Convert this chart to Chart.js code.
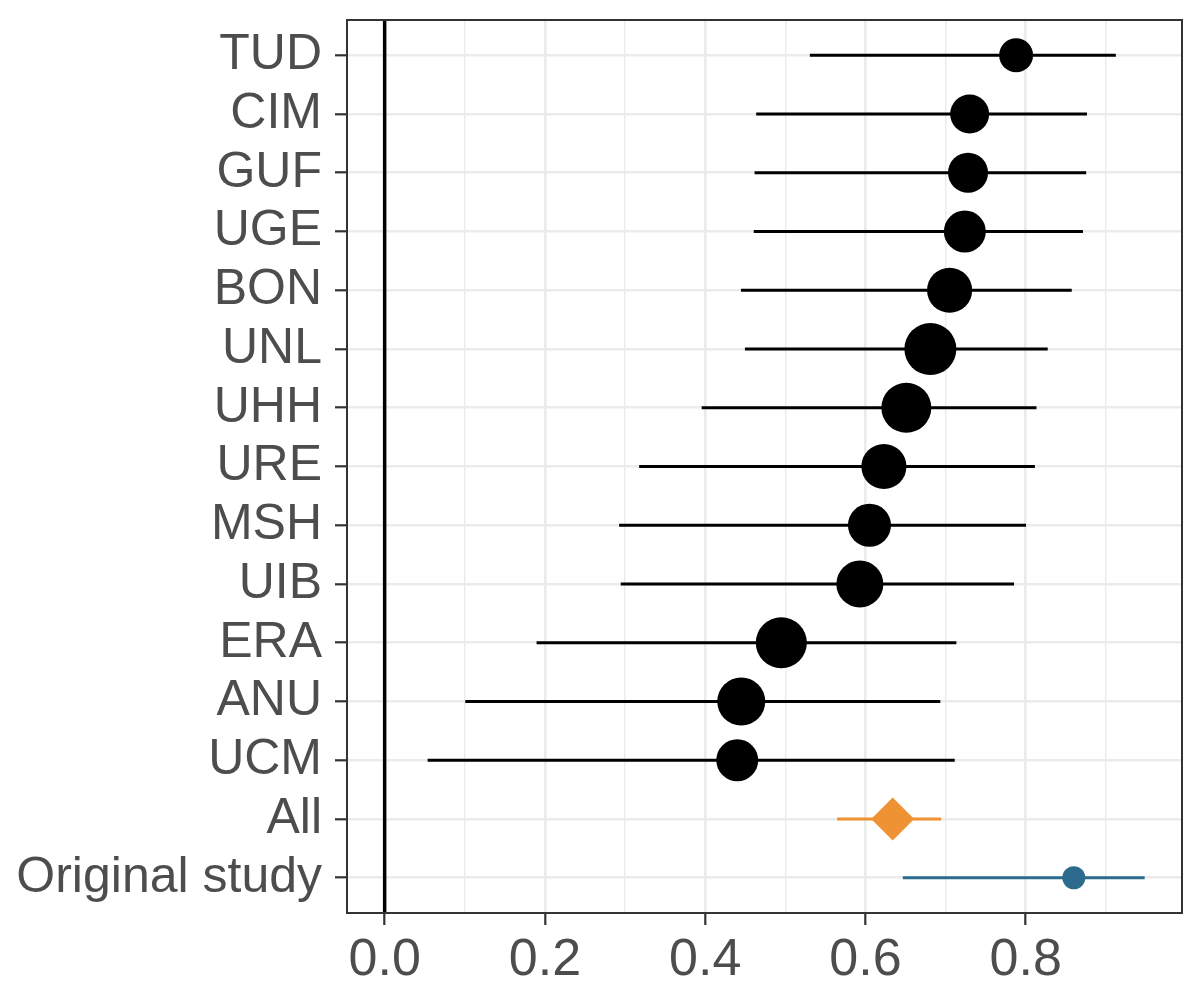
<!DOCTYPE html>
<html>
<head>
<meta charset="utf-8">
<script src="https://cdn.jsdelivr.net/npm/chart.js@4.4.1/dist/chart.umd.min.js"></script>
<style>
  body { margin: 0; background: #fff; }
  #wrap { width: 1200px; height: 994px; }
</style>
</head>
<body>
<div id="wrap"><canvas id="chart"></canvas></div>
<script>
// rows from top to bottom
let labels = ['TUD', 'CIM', 'GUF', 'UGE', 'BON', 'UNL', 'UHH', 'URE', 'MSH', 'UIB', 'ERA', 'ANU', 'UCM', 'All', 'Original study']
let estimate = [0.788, 0.730, 0.728, 0.724, 0.705, 0.681, 0.651, 0.623, 0.605, 0.593, 0.495, 0.445, 0.440, 0.634, 0.860]
let lower = [0.531, 0.464, 0.462, 0.461, 0.445, 0.450, 0.396, 0.318, 0.293, 0.295, 0.190, 0.101, 0.054, 0.565, 0.647]
let upper = [0.912, 0.876, 0.875, 0.871, 0.857, 0.827, 0.813, 0.811, 0.800, 0.785, 0.713, 0.693, 0.711, 0.694, 0.948]
// relative site weight (point area), only for the 13 sites
let siteWeight = [72, 95, 100, 110, 127, 169, 156, 127, 116, 138, 163, 144, 110]
let xMajor = [0, 0.2, 0.4, 0.6, 0.8]
let xMinor = [0.1, 0.3, 0.5, 0.7, 0.9]
let refLine = 0

const nSites = siteWeight.length
const iAll = labels.indexOf('All')
const iOrig = labels.indexOf('Original study')

const rowColor = labels.map((l, i) => i === iAll ? '#ee9233' : (i === iOrig ? '#2c6b8e' : '#000000'))
const isMajor = v => xMajor.some(m => Math.abs(m - v) < 1e-9)

const panelBorder = {
  id: 'panelBorder',
  afterDraw(chart) {
    const a = chart.chartArea, c = chart.ctx
    c.save()
    c.strokeStyle = '#333333'
    c.lineWidth = 2
    c.strokeRect(a.left, a.top, a.right - a.left, a.bottom - a.top)
    c.restore()
  }
}

const ctx = document.getElementById('chart').getContext('2d')
const myChart = new Chart(ctx, {
  type: 'scatter',
  data: {
    datasets: [{
      // site estimates
      type: 'scatter',
      order: 0,
      data: labels.slice(0, nSites).map((l, i) => ({ x: estimate[i], y: i })),
      pointRadius: siteWeight.map(w => 2 * Math.sqrt(w)),
      backgroundColor: '#000000',
      borderWidth: 0
    }, {
      // pooled estimate
      type: 'scatter',
      order: 0,
      data: [{ x: estimate[iAll], y: iAll }],
      pointStyle: 'rectRot',
      pointRadius: 21.5,
      backgroundColor: '#ee9233',
      borderWidth: 0
    }, {
      // original study
      type: 'scatter',
      order: 0,
      data: [{ x: estimate[iOrig], y: iOrig }],
      pointRadius: 11.5,
      backgroundColor: '#2c6b8e',
      borderWidth: 0
    }, {
      // confidence intervals
      type: 'bar',
      order: 1,
      indexAxis: 'y',
      data: labels.map((l, i) => ({ y: i, x: [lower[i], upper[i]] })),
      backgroundColor: rowColor,
      borderWidth: 0,
      barThickness: 2.3,
      grouped: false
    }, {
      // reference line at zero
      type: 'line',
      order: 2,
      data: [{ x: refLine, y: -0.6 }, { x: refLine, y: labels.length - 0.4 }],
      borderColor: '#000000',
      borderWidth: 3.5,
      pointRadius: 0
    }]
  },
  options: {
    responsive: true,
    maintainAspectRatio: false,
    animation: false,
    layout: { autoPadding: false, padding: { top: 20, right: 18, left: 0, bottom: 0 } },
    plugins: { legend: { display: false }, tooltip: { enabled: false } },
    scales: {
      x: {
        type: 'linear',
        min: -0.047,
        max: 0.995,
        offset: false,
        afterBuildTicks: s => { s.ticks = xMajor.concat(xMinor).sort((a, b) => a - b).map(v => ({ value: v })) },
        afterFit: s => { s.height = 81 },
        border: { display: false },
        grid: {
          color: '#ebebeb',
          lineWidth: c => isMajor(c.tick.value) ? 2.6 : 1.4,
          tickColor: c => isMajor(c.tick.value) ? '#333333' : 'rgba(0,0,0,0)',
          tickLength: 12,
          tickWidth: 2.2,
          offset: false
        },
        ticks: {
          autoSkip: false,
          maxRotation: 0,
          padding: 4,
          color: '#4d4d4d',
          font: { family: 'Liberation Sans, Arial, sans-serif', size: 52 },
          callback: v => isMajor(v) ? v.toFixed(1) : ''
        }
      },
      y: {
        type: 'linear',
        reverse: true,
        min: -0.6,
        max: labels.length - 0.4,
        offset: false,
        afterBuildTicks: s => { s.ticks = labels.map((l, i) => ({ value: i })) },
        afterFit: s => {
          s.width = 347
          s.paddingTop = 0
          s.paddingBottom = 0
          if (s._margins) { s._margins.top = 0; s._margins.bottom = 0 }
        },
        border: { display: false },
        grid: {
          color: '#ebebeb',
          lineWidth: 2.6,
          tickColor: '#333333',
          tickLength: 12,
          tickWidth: 2.2,
          offset: false
        },
        ticks: {
          autoSkip: false,
          padding: 13,
          color: '#4d4d4d',
          font: { family: 'Liberation Sans, Arial, sans-serif', size: 50 },
          callback: v => labels[v]
        }
      }
    }
  },
  plugins: [panelBorder]
})
</script>
</body>
</html>
